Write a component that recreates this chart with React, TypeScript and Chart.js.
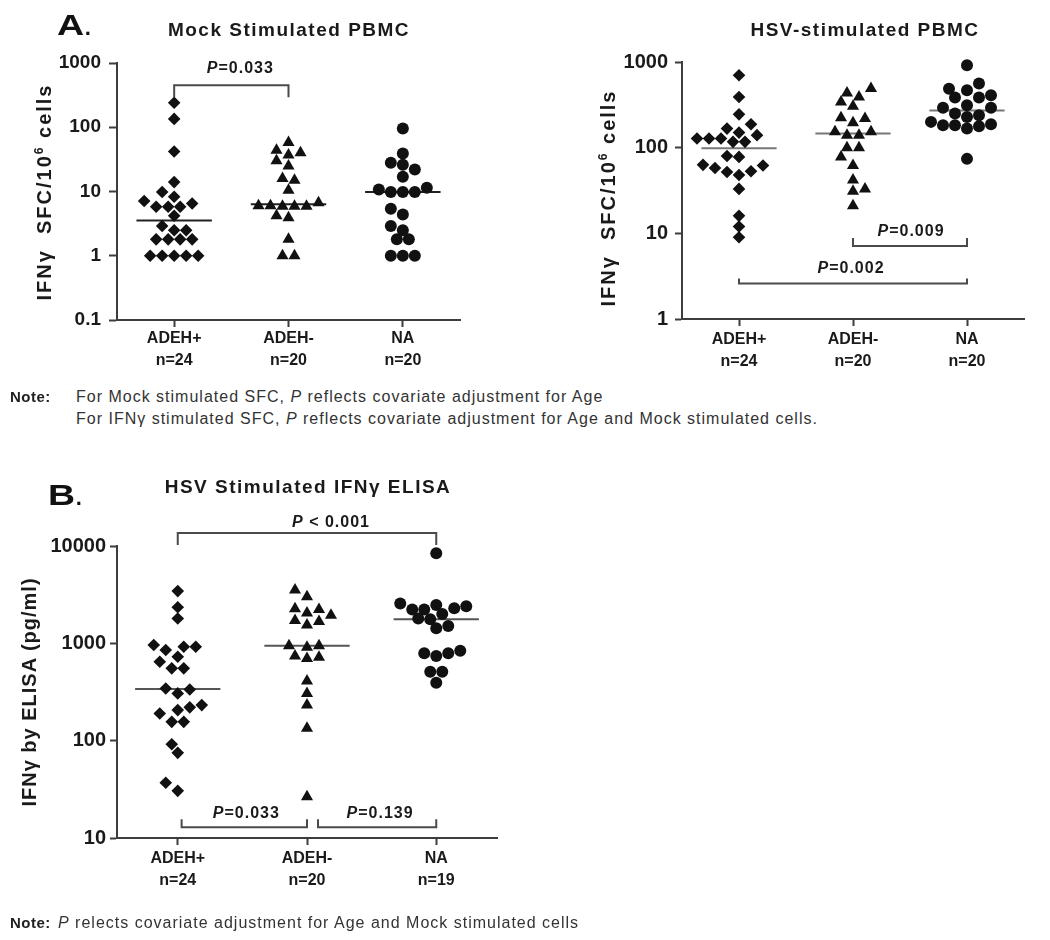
import React, { useEffect, useRef } from "react";
import { Chart, registerables } from "chart.js";

Chart.register(...registerables);

const FONT = "'Liberation Sans', Arial, Helvetica, sans-serif";
Chart.defaults.font.family = FONT;

// ---------------- data ----------------
const GROUPS = ["ADEH+", "ADEH-", "NA"];

// Panel A (left): Mock stimulated PBMC, IFNγ SFC / 10^6 cells
const mockADEHpos = [240, 135, 42, 14, 9.8, 8.3, 7.1, 6.5, 5.8, 5.8, 5.8, 4.2, 2.9, 2.5, 2.5, 1.8, 1.8, 1.8, 1.8, 1, 1, 1, 1, 1];
const mockADEHneg = [58, 44, 40, 37, 30, 25, 16, 15, 10.5, 6.7, 6, 6, 5.9, 5.9, 5.9, 4.2, 3.9, 1.8, 1, 1];
const mockNA = [96, 39, 28, 26, 22, 17, 11.4, 10.7, 9.8, 9.8, 9.8, 5.4, 4.4, 2.9, 2.5, 1.8, 1.8, 1, 1, 1];

// Panel A (right): HSV-stimulated PBMC
const hsvADEHpos = [700, 390, 245, 188, 167, 150, 140, 128, 128, 128, 117, 117, 80, 78, 63, 62, 58, 53, 52, 48, 33, 16, 12, 9];
const hsvADEHneg = [489, 436, 391, 342, 304, 224, 219, 195, 153, 153, 140, 140, 100, 100, 78, 62, 42, 33, 31, 21];
const hsvNA = [914, 560, 488, 468, 409, 384, 384, 313, 293, 293, 250, 239, 228, 200, 188, 183, 183, 178, 167, 74];

// Panel B: HSV stimulated IFNγ ELISA (pg/ml)
const elisaADEHpos = [3440, 2350, 1800, 960, 923, 923, 853, 728, 647, 553, 553, 344, 336, 306, 232, 220, 206, 190, 156, 156, 92, 75, 37, 30.5];
const elisaADEHneg = [3530, 3010, 2270, 2230, 2050, 1940, 1720, 1680, 1540, 945, 944, 910, 740, 720, 700, 410, 306, 232, 134, 26.5];
const elisaNA = [8410, 2570, 2480, 2410, 2290, 2230, 2230, 2000, 1800, 1770, 1510, 1430, 840, 790, 790, 740, 511, 511, 394];

const MOCK_TICKS = [0.1, 1, 10, 100, 1000];
const HSV_TICKS = [1, 10, 100, 1000];
const ELISA_TICKS = [10, 100, 1000, 10000];

type Bracket = { from: number; to: number; at: number; text: string };
const MOCK_BRACKETS: Bracket[] = [{ from: 1, to: 2, at: 450, text: "P=0.033" }];
const HSV_BRACKETS: Bracket[] = [
  { from: 2, to: 3, at: 7.1, text: "P=0.009" },
  { from: 1, to: 3, at: 2.6, text: "P=0.002" },
];
const ELISA_BRACKETS: Bracket[] = [
  { from: 1, to: 3, at: 13600, text: "P < 0.001" },
  { from: 1.03, to: 2, at: 12.9, text: "P=0.033" },
  { from: 2.085, to: 3, at: 12.9, text: "P=0.139" },
];

// ---------------- helpers ----------------
const AXIS = "#3d3d3d";
const MED_HALF = 0.33;

function median(vals: number[]) {
  const s = [...vals].sort((a, b) => a - b);
  const n = s.length;
  return n % 2 ? s[(n - 1) / 2] : (s[n / 2 - 1] + s[n / 2]) / 2;
}

function rowPositions(k: number, gap: number, shift: number, spacing: number) {
  const xs: number[] = [];
  if (k % 2 === 1) {
    xs.push(shift);
    for (let j = 1; j <= (k - 1) / 2; j++) {
      const o = gap + j * spacing;
      xs.push(shift - o, shift + o);
    }
  } else {
    for (let j = 0; j < k / 2; j++) {
      const o = spacing / 2 + gap + j * spacing;
      xs.push(shift - o, shift + o);
    }
  }
  return xs;
}

// dot-plot layout: points with equal values are laid in symmetric rows,
// everything is nudged sideways until it does not overlap what is placed.
function layoutOffsets(vals: number[], toPx: (v: number) => number, spacing = 12, minDist = 10.5, step = 6) {
  const order = vals.map((_, i) => i).sort((a, b) => vals[a] - vals[b]);
  const groups: number[][] = [];
  order.forEach((i) => {
    const g = groups[groups.length - 1];
    if (g && vals[g[0]] === vals[i]) g.push(i);
    else groups.push([i]);
  });
  const placed: { x: number; y: number }[] = [];
  const out = new Array(vals.length).fill(0);
  groups.forEach((g, gi) => {
    const k = g.length;
    const y = toPx(vals[g[0]]);
    const free = (xs: number[]) =>
      xs.every((x) => placed.every((q) => (q.x - x) ** 2 + (q.y - y) ** 2 >= minDist * minDist));
    for (let c = 0; c <= 60 * step; c += step) {
      for (let gap = 0; gap <= c; gap += step) {
        const s = c - gap;
        const shifts = s === 0 ? [0] : gi % 2 === 0 ? [s, -s] : [-s, s];
        for (const shift of shifts) {
          const xs = rowPositions(k, gap, shift, spacing);
          if (free(xs)) {
            xs.forEach((x, j) => {
              out[g[j]] = x;
              placed.push({ x, y });
            });
            return;
          }
        }
      }
    }
  });
  return out;
}

const bracketPlugin = {
  id: "pBrackets",
  afterDraw(chart: any, _args: any, opts: any) {
    const items: Bracket[] = opts.items || [];
    const styles = opts.styles || [];
    const ctx = chart.ctx;
    const xs = chart.scales.x;
    const ys = chart.scales.y;
    ctx.save();
    items.forEach((b, i) => {
      const st = styles[i] || { tick: 8, gap: 14, dx: 0 };
      const x1 = xs.getPixelForValue(b.from);
      const x2 = xs.getPixelForValue(b.to);
      const y = ys.getPixelForValue(b.at);
      ctx.strokeStyle = "#4a4a4a";
      ctx.lineWidth = 2;
      ctx.beginPath();
      ctx.moveTo(x1, y + st.tick);
      ctx.lineTo(x1, y);
      ctx.lineTo(x2, y);
      ctx.lineTo(x2, y + st.tick);
      ctx.stroke();
      const head = b.text.slice(0, 1);
      const rest = b.text.slice(1);
      const fItal = `italic bold 16px ${FONT}`;
      const fBold = `bold 16px ${FONT}`;
      ctx.letterSpacing = "1px";
      ctx.font = fItal;
      const w1 = ctx.measureText(head).width;
      ctx.font = fBold;
      const w2 = ctx.measureText(rest).width;
      const lx = (x1 + x2) / 2 + st.dx - (w1 + w2) / 2;
      const ly = y - st.gap;
      ctx.fillStyle = "#1a1a1a";
      ctx.textBaseline = "middle";
      ctx.textAlign = "left";
      ctx.font = fItal;
      ctx.fillText(head, lx, ly);
      ctx.font = fBold;
      ctx.fillText(rest, lx + w1, ly);
    });
    ctx.restore();
  },
};

type PanelProps = {
  box: { left: number; top: number; width: number; height: number };
  area: { left: number; right: number; top: number; bottom: number };
  xRange: [number, number];
  yRange: [number, number];
  yTicks: number[];
  series: number[][];
  brackets: Bracket[];
  bracketStyle: { tick: number; gap: number; dx: number }[];
  yFont: number;
  yPad: number;
  yTickLen: number;
  xPad: number;
  medianColor: string;
};

function DotPlot(p: PanelProps) {
  const ref = useRef<HTMLCanvasElement>(null);
  useEffect(() => {
    const canvas = ref.current;
    if (!canvas) return;
    const shapes = ["rectRot", "triangle", "circle"];
    const radii = [6.3, 7, 6];
    const datasets: any[] = p.series.map((vals, i) => ({
      data: vals.map((v) => ({ x: i + 1, y: v })),
      pointStyle: shapes[i],
      pointRadius: radii[i],
      pointHoverRadius: radii[i],
      backgroundColor: "#111",
      borderColor: "#111",
      borderWidth: 0,
      showLine: false,
      clip: false,
    }));
    p.series.forEach((vals, i) => {
      const m = median(vals);
      datasets.push({
        data: [
          { x: i + 1 - MED_HALF, y: m },
          { x: i + 1 + MED_HALF, y: m },
        ],
        showLine: true,
        borderColor: p.medianColor,
        borderWidth: 2,
        pointRadius: 0,
        pointHoverRadius: 0,
        clip: false,
        fill: false,
      });
    });
    const chart = new Chart(canvas, {
      type: "scatter",
      data: { datasets },
      plugins: [bracketPlugin as any],
      options: {
        responsive: false,
        animation: false,
        events: [],
        layout: { padding: { left: 0, top: p.area.top, right: p.box.width - p.area.right, bottom: 0 } },
        plugins: {
          legend: { display: false },
          tooltip: { enabled: false },
          pBrackets: { items: p.brackets, styles: p.bracketStyle },
        } as any,
        scales: {
          x: {
            type: "linear",
            min: p.xRange[0],
            max: p.xRange[1],
            afterBuildTicks: (s: any) => {
              s.ticks = GROUPS.map((_, i) => ({ value: i + 1 }));
            },
            afterFit: (s: any) => {
              s.height = p.box.height - p.area.bottom;
            },
            ticks: {
              callback: (_v: any, i: number) => [GROUPS[i], `n=${p.series[i].length}`],
              font: { size: 16, weight: "bold", lineHeight: 1.35 },
              color: "#1a1a1a",
              padding: p.xPad,
              maxRotation: 0,
              autoSkip: false,
            },
            grid: { drawOnChartArea: false, drawTicks: true, tickLength: 7, tickWidth: 2, tickColor: AXIS },
            border: { display: true, color: AXIS, width: 2 },
          },
          y: {
            type: "logarithmic",
            min: p.yRange[0],
            max: p.yRange[1],
            afterBuildTicks: (s: any) => {
              s.ticks = p.yTicks.map((v) => ({ value: v, major: true }));
            },
            afterFit: (s: any) => {
              s.width = p.area.left;
            },
            ticks: {
              callback: (v: any) => String(v),
              font: { size: p.yFont, weight: "bold" },
              color: "#1a1a1a",
              padding: p.yPad,
              autoSkip: false,
            },
            grid: { drawOnChartArea: false, drawTicks: true, tickLength: p.yTickLen, tickWidth: 2, tickColor: AXIS },
            border: { display: true, color: AXIS, width: 2 },
          },
        } as any,
      },
    });
    const xs: any = chart.scales.x;
    const ys: any = chart.scales.y;
    const unit = xs.getPixelForValue(2) - xs.getPixelForValue(1);
    p.series.forEach((vals, i) => {
      const offs = layoutOffsets(vals, (v) => ys.getPixelForValue(v));
      (chart.data.datasets[i] as any).data = vals.map((v, j) => ({ x: i + 1 + offs[j] / unit, y: v }));
    });
    chart.update();
    return () => chart.destroy();
  }, []);
  return (
    <canvas
      ref={ref}
      width={p.box.width}
      height={p.box.height}
      style={{ position: "absolute", left: p.box.left, top: p.box.top, width: p.box.width, height: p.box.height }}
    />
  );
}

function Center({ cx, cy, style, children }: any) {
  return (
    <div
      style={{
        position: "absolute",
        left: cx - 300,
        top: cy - 15,
        width: 600,
        height: 30,
        lineHeight: "30px",
        textAlign: "center",
        whiteSpace: "nowrap",
        ...style,
      }}
    >
      {children}
    </div>
  );
}

function Left({ x, cy, style, children }: any) {
  return (
    <div style={{ position: "absolute", left: x, top: cy - 15, height: 30, lineHeight: "30px", whiteSpace: "nowrap", ...style }}>
      {children}
    </div>
  );
}

function Vert({ cx, cy, style, children }: any) {
  return (
    <div
      style={{
        position: "absolute",
        left: cx - 160,
        top: cy - 15,
        width: 320,
        height: 30,
        lineHeight: "30px",
        textAlign: "center",
        whiteSpace: "nowrap",
        transform: "rotate(-90deg)",
        transformOrigin: "50% 50%",
        ...style,
      }}
    >
      {children}
    </div>
  );
}

const TITLE = { fontSize: 19, fontWeight: 700, letterSpacing: "1.5px", color: "#1a1a1a" };
const YLAB = { fontSize: 20, fontWeight: 700, letterSpacing: "2px", color: "#1a1a1a" };
const NOTE = { fontSize: 16, letterSpacing: "1px", color: "#333" };
const NOTE_B = { fontSize: 15, fontWeight: 700, letterSpacing: "0.5px", color: "#222" };
const LETTER = { fontSize: 30, fontWeight: 700, display: "inline-block", transform: "scaleX(1.25)", transformOrigin: "left center" };

export default function App() {
  return (
    <div
      style={{
        position: "absolute",
        left: 0,
        top: 0,
        width: 1050,
        height: 940,
        background: "#fff",
        overflow: "hidden",
        fontFamily: FONT,
        color: "#111",
      }}
    >
      <DotPlot
        box={{ left: 0, top: 0, width: 480, height: 380 }}
        area={{ left: 117, right: 460, top: 63, bottom: 320 }}
        xRange={[0.5, 3.5]}
        yRange={[0.1, 1000]}
        yTicks={MOCK_TICKS}
        series={[mockADEHpos, mockADEHneg, mockNA]}
        brackets={MOCK_BRACKETS}
        bracketStyle={[{ tick: 12, gap: 16.5, dx: 9 }]}
        yFont={19}
        yPad={8}
        yTickLen={8}
        xPad={1}
        medianColor="#222"
      />
      <DotPlot
        box={{ left: 540, top: 0, width: 510, height: 380 }}
        area={{ left: 142, right: 484, top: 62, bottom: 319 }}
        xRange={[0.5, 3.5]}
        yRange={[1, 1000]}
        yTicks={HSV_TICKS}
        series={[hsvADEHpos, hsvADEHneg, hsvNA]}
        brackets={HSV_BRACKETS}
        bracketStyle={[
          { tick: -8, gap: 14, dx: 1 },
          { tick: -5, gap: 14.5, dx: -2 },
        ]}
        yFont={20}
        yPad={7}
        yTickLen={7}
        xPad={3}
        medianColor="#777"
      />
      <DotPlot
        box={{ left: 0, top: 440, width: 520, height: 470 }}
        area={{ left: 117, right: 497, top: 106, bottom: 398 }}
        xRange={[0.53, 3.47]}
        yRange={[10, 10000]}
        yTicks={ELISA_TICKS}
        series={[elisaADEHpos, elisaADEHneg, elisaNA]}
        brackets={ELISA_BRACKETS}
        bracketStyle={[
          { tick: 12, gap: 10, dx: 24 },
          { tick: -8, gap: 14, dx: 2 },
          { tick: -8, gap: 14, dx: 3 },
        ]}
        yFont={20}
        yPad={4}
        yTickLen={7}
        xPad={3}
        medianColor="#555"
      />

      {/* panel letters and titles */}
      <Left x={57} cy={25}>
        <span style={LETTER}>A</span>
        <span style={{ fontSize: 22, fontWeight: 700, marginLeft: 6 }}>.</span>
      </Left>
      <Center cx={289} cy={30} style={TITLE}>Mock Stimulated PBMC</Center>
      <Center cx={865} cy={30} style={TITLE}>HSV-stimulated PBMC</Center>
      <Left x={48} cy={495}>
        <span style={LETTER}>B</span>
        <span style={{ fontSize: 22, fontWeight: 700, marginLeft: 6 }}>.</span>
      </Left>
      <Center cx={308} cy={487} style={TITLE}>HSV Stimulated IFNγ ELISA</Center>

      {/* axis titles */}
      <Vert cx={44} cy={192} style={YLAB}>
        IFNγ{"\u00a0\u00a0"}SFC/10<span style={{ fontSize: 12, position: "relative", top: -8 }}>6</span> cells
      </Vert>
      <Vert cx={608} cy={198} style={YLAB}>
        IFNγ{"\u00a0\u00a0"}SFC/10<span style={{ fontSize: 12, position: "relative", top: -8 }}>6</span> cells
      </Vert>
      <Vert cx={29} cy={692} style={{ ...YLAB, letterSpacing: "1px" }}>
        IFNγ by ELISA (pg/ml)
      </Vert>

      {/* notes */}
      <Left x={10} cy={397} style={NOTE_B}>Note:</Left>
      <Left x={76} cy={397} style={NOTE}>
        For Mock stimulated SFC, <i>P</i> reflects covariate adjustment for Age
      </Left>
      <Left x={76} cy={419} style={NOTE}>
        For IFNγ stimulated SFC, <i>P</i> reflects covariate adjustment for Age and Mock stimulated cells.
      </Left>
      <Left x={10} cy={923} style={NOTE_B}>Note:</Left>
      <Left x={58} cy={923} style={NOTE}>
        <i>P</i> relects covariate adjustment for Age and Mock stimulated cells
      </Left>
    </div>
  );
}
